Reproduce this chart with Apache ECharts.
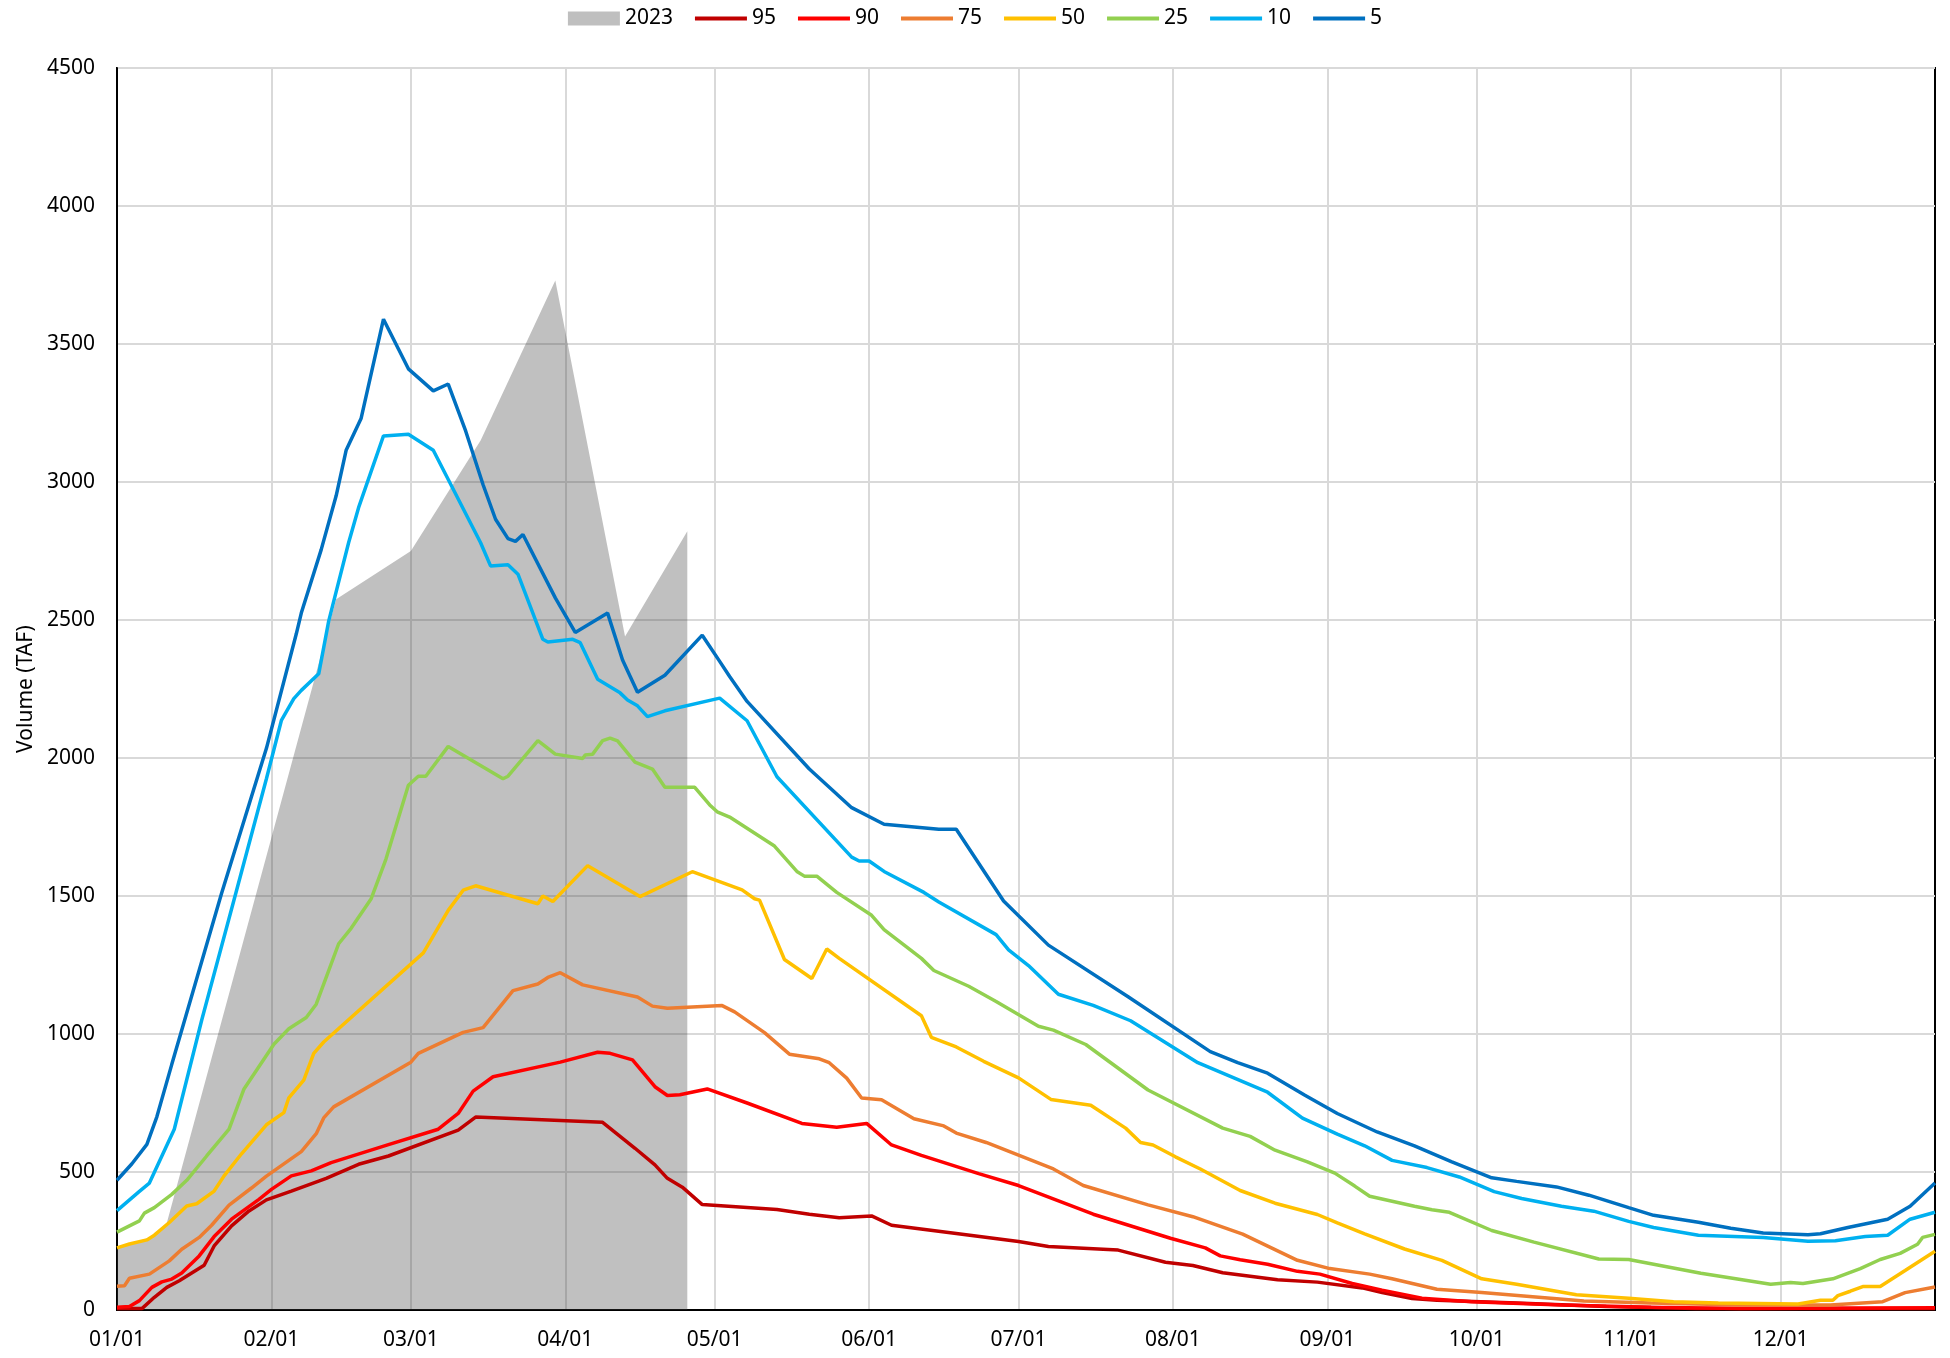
<!DOCTYPE html>
<html>
<head>
<meta charset="utf-8">
<title>Volume percentiles</title>
<script src="https://cdn.jsdelivr.net/npm/echarts@6/dist/echarts.min.js"></script>
<style>
  html, body { margin: 0; padding: 0; background: #fff; }
  #main { width: 1950px; height: 1358px; }
</style>
</head>
<body>
<div id="main"></div>
<script>
// x = day of year (0 = 01/01), y = volume in TAF
var monthDays = [0, 31, 59, 90, 120, 151, 181, 212, 243, 273, 304, 334];
var monthLabels = ['01/01', '02/01', '03/01', '04/01', '05/01', '06/01',
                   '07/01', '08/01', '09/01', '10/01', '11/01', '12/01'];

// 2023 measured volume
var wy2023 = [[0,225],[7,265],[10,315],[44,2575],[59,2750],[73,3150],[88,3730],[102,2440],[114.5,2822]];

// exceedance percentile curves (vertices)
var p95 = [[0,5],[5,5],[7.5,46],[10,82],[12.5,106],[17.5,162],[19.5,232],[23,305],[26.5,359],[30,399],
  [35,431],[42,477],[48.5,528],[54.5,558],[68.5,652],[72,699],[97.5,680],[104,586],[108,526],[110.5,477],
  [113.5,445],[117.5,382],[132.5,364],[139,347],[145,334],[151.5,341],[155.5,307],[168.5,277],[181,248],
  [187,230],[201,217],[210.5,173],[216,161],[222,135],[233,110],[241,101],[250,80],[254,63],[260,42],
  [265,35],[281,25],[299,13],[317,5],[365,5]];
var p90 = [[0,10],[2.5,13],[4.5,34],[7,82],[9,102],[11,112],[13,134],[16.5,196],[19.5,266],[23,329],
  [28.5,401],[31,437],[35,486],[39,504],[43,534],[54.5,599],[64.5,655],[68.5,712],[71.5,793],[75.5,845],
  [89,898],[96.5,934],[99,930],[103.5,906],[108,809],[110.5,777],[113,780],[118.5,801],[126.5,750],
  [137.5,676],[144.5,662],[150.5,676],[155.5,598],[161.5,560],[173,494],[181,451],[196,347],[211.5,260],
  [218.5,225],[221.5,196],[225.5,182],[231,166],[237,140],[241.5,130],[248,96],[254,72],[262,43],
  [272,30],[290,18],[308,10],[326,5],[365,8]];
var p75 = [[0,86],[1.5,88],[2.5,115],[6.5,130],[10.5,178],[13,220],[16.5,263],[19,307],[22.5,380],
  [27,442],[30,485],[37,574],[40,639],[41.5,696],[43.5,736],[59,898],[60.5,930],[69.5,1006],[73.5,1023],
  [79.5,1157],[84.5,1181],[86.5,1205],[89,1222],[93.5,1178],[104.5,1134],[107.5,1101],[110.5,1093],
  [121.5,1103],[124,1080],[130,1005],[135,927],[141,910],[143,896],[146.5,840],[149.5,768],[153.5,762],
  [160,693],[166,667],[168.5,641],[174.5,607],[188,511],[194,451],[207,381],[216,338],[226,275],
  [237,180],[243.5,150],[251.5,130],[256,113],[265,75],[274,63],[283,50],[294.5,33],[308,25],[326,18],
  [344,18],[354.5,30],[359,63],[365,83]];
var p50 = [[0,225],[2.5,239],[6,254],[7.5,271],[10.5,317],[14,377],[16,385],[19.5,431],[21.5,486],
  [25,566],[30,671],[33.5,715],[34.5,769],[37.5,833],[39.5,930],[41.5,971],[61.5,1294],[66.5,1448],
  [69.5,1521],[72,1537],[84.5,1472],[85.5,1500],[87.5,1480],[94.5,1610],[105,1498],[115.5,1588],
  [125.5,1522],[128,1490],[129,1485],[134,1270],[139.5,1201],[142.5,1308],[145,1274],[161.5,1066],
  [163.5,988],[168.5,953],[174,901],[181,841],[187.5,763],[195.5,742],[202.5,659],[205.5,607],[208,598],
  [212.5,555],[217.5,511],[225.5,433],[232.5,387],[241,346],[245,316],[250.5,276],[258.5,221],[266,180],
  [274,113],[281,93],[293,55],[303.5,43],[312.5,30],[321.5,25],[337.5,22],[342,35],[344.5,35],[345.5,52],
  [348,68],[350.5,85],[354,85],[359,143],[365,213]];
var p25 = [[0,282],[4.5,323],[5.5,351],[7.5,371],[11,419],[14,470],[18,558],[22.5,655],[25.5,801],
  [31.5,963],[34.5,1019],[38,1060],[40,1108],[42,1205],[44.5,1327],[47,1383],[51,1489],[54,1634],
  [58.5,1901],[60.5,1934],[62,1934],[66.5,2042],[77.5,1925],[78.5,1934],[84.5,2063],[88,2014],[93.5,1998],
  [94,2011],[95.5,2014],[97.5,2063],[99,2072],[100.5,2062],[104,1985],[107.5,1960],[110,1894],[116,1894],
  [119,1830],[120.5,1805],[123,1786],[132,1681],[136.5,1589],[138,1572],[140.5,1572],[144.5,1513],
  [151.5,1430],[154,1378],[161.5,1274],[164,1230],[171,1173],[176.5,1118],[185,1028],[188,1014],
  [194.5,962],[207,797],[222,659],[227.5,629],[232.5,579],[239,537],[244.5,496],[248.5,449],[251.5,412],
  [260.5,376],[264,363],[267.5,354],[276,288],[284.5,246],[297.5,185],[303.5,183],[318,133],[332,93],
  [336,100],[338.5,96],[344.5,113],[350,150],[354,183],[358,205],[361.5,238],[362.5,263],[365,274]];
var p10 = [[0,360],[4.5,430],[6.5,460],[11.5,655],[17,1050],[24,1520],[30,1925],[33,2136],[35.5,2215],
  [37,2245],[40.5,2305],[42.5,2496],[46.5,2780],[48.5,2907],[53.5,3167],[58.5,3173],[63.5,3115],[73,2780],
  [75,2696],[78.5,2700],[80.5,2666],[85.5,2430],[86.5,2420],[91.5,2430],[93,2418],[96.5,2285],[101,2236],
  [102.5,2210],[104.5,2189],[106.5,2150],[110,2171],[121,2217],[126.5,2135],[132.5,1932],[147.5,1641],
  [149,1627],[151,1627],[154,1589],[162,1513],[165,1478],[176.5,1360],[179,1305],[183,1248],[189,1144],
  [196,1104],[203.5,1048],[217,896],[231,789],[238,695],[245,637],[250.5,595],[256,542],[263,516],
  [269.5,482],[276.5,429],[282,404],[290,376],[296.5,358],[303.5,321],[308.5,299],[317.5,271],
  [330.5,263],[339.5,249],[345,251],[351,266],[355.5,271],[360,329],[365,354]];
var p5 = [[0,470],[3,530],[6,600],[8,700],[11,890],[21,1510],[30,2035],[36,2450],[37,2525],[41,2755],
  [44,2950],[46,3115],[49,3230],[53.5,3590],[58.5,3410],[63.5,3330],[66.5,3355],[70,3185],[73.5,2990],
  [76,2865],[78.5,2795],[80,2785],[81.5,2810],[88,2580],[92,2455],[98.5,2525],[101.5,2355],[104.5,2238],
  [110,2300],[117.5,2445],[121,2350],[123,2295],[126.5,2205],[139,1960],[147.5,1820],[154,1760],
  [165,1742],[168.5,1742],[178,1482],[187,1322],[203,1135],[219.5,936],[225,896],[231,858],[238.5,778],
  [245,712],[253,645],[260.5,595],[268,537],[276,479],[281,466],[289,446],[295.5,416],[303.5,371],
  [308.5,343],[317.5,318],[324,296],[330.5,279],[339.5,273],[342,276],[347.5,299],[355.5,329],[360,376],
  [365,460]];

var lineNames = ['95', '90', '75', '50', '25', '10', '5'];
var lineData = [p95, p90, p75, p50, p25, p10, p5];
var lineColors = ['#C00000', '#FF0000', '#ED7D31', '#FFC000', '#92D050', '#00B0F0', '#0070C0'];

var font = 'Noto Sans';
var chart = echarts.init(document.getElementById('main'));

var series = [{
    name: '2023',
    type: 'line',
    data: wy2023,
    color: '#BFBFBF',
    symbol: 'none',
    lineStyle: { width: 0 },
    areaStyle: { color: 'rgba(64,64,64,0.33)', opacity: 1 },
    z: 1
}];
lineNames.forEach(function (n, i) {
    series.push({
        name: n,
        type: 'line',
        data: lineData[i],
        color: lineColors[i],
        symbol: 'none',
        lineStyle: { width: 3.5, color: lineColors[i] },
        z: 2 + i
    });
});

var lineIcon = 'path://M0,0 L52,0 L52,4 L0,4 Z';
var legendData = [{ name: '2023', icon: 'rect' }];
lineNames.forEach(function (n) { legendData.push({ name: n, icon: lineIcon }); });

chart.setOption({
    animation: false,
    backgroundColor: '#fff',
    textStyle: { fontFamily: font },
    legend: {
        data: legendData,
        top: 3,
        left: 'center',
        itemWidth: 52,
        itemHeight: 14,
        itemGap: 22,
        symbolKeepAspect: true,
        textStyle: { fontFamily: font, fontSize: 21, color: '#000' }
    },
    grid: {
        left: 117, right: 15, top: 68, bottom: 48,
        show: true, borderColor: '#000', borderWidth: 2
    },
    xAxis: {
        type: 'value',
        min: 0,
        max: 365,
        axisLine: { show: true, lineStyle: { color: '#000', width: 2 } },
        axisTick: { show: false, customValues: monthDays },
        splitLine: { show: true, customValues: monthDays, lineStyle: { color: '#D9D9D9', width: 2 } },
        axisLabel: {
            customValues: monthDays,
            margin: 20,
            fontFamily: font,
            fontSize: 21,
            color: '#000',
            formatter: function (v) { return monthLabels[monthDays.indexOf(v)]; }
        }
    },
    yAxis: {
        type: 'value',
        min: 0,
        max: 4500,
        interval: 500,
        name: 'Volume (TAF)',
        nameLocation: 'middle',
        nameGap: 78,
        nameTextStyle: { fontFamily: font, fontSize: 21, color: '#000' },
        axisLine: { show: true, lineStyle: { color: '#000', width: 2 } },
        axisTick: { show: false },
        splitLine: { show: true, lineStyle: { color: '#D9D9D9', width: 2 } },
        axisLabel: {
            margin: 22, fontFamily: font, fontSize: 21, color: '#000',
            formatter: function (v) { return String(v); }
        }
    },
    series: series
});
</script>
</body>
</html>
